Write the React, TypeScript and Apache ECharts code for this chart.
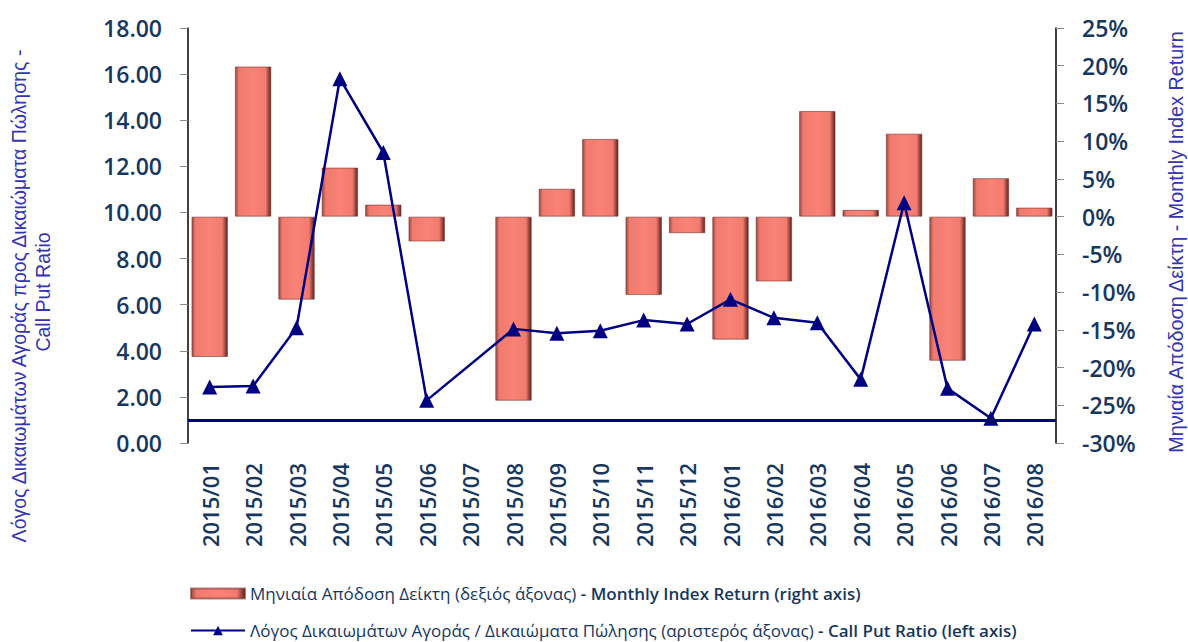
import React, { useEffect, useRef } from 'react';
import * as echarts from 'echarts';

const categories = [
  '2015/01', '2015/02', '2015/03', '2015/04', '2015/05', '2015/06', '2015/07', '2015/08',
  '2015/09', '2015/10', '2015/11', '2015/12', '2016/01', '2016/02', '2016/03', '2016/04',
  '2016/05', '2016/06', '2016/07', '2016/08',
];
const monthlyReturn = [
  -18.6, 19.9, -11.0, 6.5, 1.6, -3.3, null, -24.4, 3.7, 10.3,
  -10.4, -2.2, -16.3, -8.6, 14.0, 0.9, 11.0, -19.1, 5.1, 1.2,
];
const callPutRatio = [
  2.43, 2.47, 5.0, 15.8, 12.6, 1.85, null, 4.95, 4.76, 4.87,
  5.33, 5.16, 6.23, 5.43, 5.22, 2.76, 10.42, 2.37, 1.07, 5.16,
];
const referenceLevel = 1;
const leftAxisRange = { min: 0, max: 18, interval: 2 };
const rightAxisRange = { min: -30, max: 25, interval: 5 };

const barName = 'Μηνιαία Απόδοση Δείκτη (δεξιός άξονας) - Monthly Index Return (right axis)';
const lineName = 'Λόγος Δικαιωμάτων Αγοράς / Δικαιώματα Πώλησης (αριστερός άξονας) - Call Put Ratio (left axis)';
const leftNameLine1 = 'Λόγος Δικαιωμάτων Αγοράς προς Δικαιώματα Πώλησης -';
const leftNameLine2 = 'Call Put Ratio';
const rightName = 'Μηνιαία Απόδοση Δείκτη - Monthly Index Return';

const NAVY = '#17375E';
const NAME_COLOR = '#3535B0';
const FONT = '"Liberation Sans", Arial, sans-serif';
const OPEN = '"Open Sans", "Noto Sans", sans-serif';

const legendFormatter = (name: string) => {
  const idx = name.lastIndexOf(' - ');
  return `{g|${name.slice(0, idx)}}{e|${name.slice(idx)}}`;
};
const legendText = {
  rich: {
    g: { fontFamily: OPEN, fontSize: 17, color: NAVY, lineHeight: 18 },
    e: { fontFamily: OPEN, fontSize: 17, color: NAVY, fontWeight: 600, lineHeight: 18 },
  },
};

export default function App() {
  const ref = useRef<HTMLDivElement>(null);
  useEffect(() => {
    if (!ref.current) return;
    const chart = echarts.init(ref.current, undefined, { renderer: 'svg' });
    chart.setOption({
      animation: false,
      backgroundColor: '#ffffff',
      grid: { left: 188, right: 132, top: 28, bottom: 199 },
      legend: [
        {
          data: [{ name: barName, icon: 'rect' }],
          left: 190, top: 585, itemWidth: 54, itemHeight: 10, itemGap: 0, padding: 0,
          formatter: legendFormatter, textStyle: legendText,
        },
        {
          data: [lineName],
          left: 190, top: 622, itemWidth: 54, itemHeight: 12, itemGap: 0, padding: 0,
          formatter: legendFormatter, textStyle: legendText,
        },
      ],
      xAxis: {
        type: 'category',
        data: categories,
        axisLine: { show: false },
        axisTick: { show: false },
        axisLabel: {
          rotate: 90, margin: 20, interval: 0,
          fontFamily: OPEN, fontSize: 22, fontWeight: 600, color: NAVY,
        },
      },
      yAxis: [
        {
          type: 'value', position: 'left', ...leftAxisRange,
          axisLine: { show: true, lineStyle: { color: '#000', width: 1.5 } },
          axisTick: { show: true, length: 8, lineStyle: { color: '#888' } },
          splitLine: { show: false },
          axisLabel: {
            formatter: (v: number) => v.toFixed(2), margin: 26,
            fontFamily: OPEN, fontSize: 23, fontWeight: 600, color: NAVY,
          },
        },
        {
          type: 'value', position: 'right', ...rightAxisRange,
          axisLine: { show: true, lineStyle: { color: '#000', width: 1.5 } },
          axisTick: { show: true, length: 8, lineStyle: { color: '#888' } },
          splitLine: { show: false },
          axisLabel: {
            formatter: (v: number) => `${v}%`, margin: 26,
            fontFamily: OPEN, fontSize: 23, fontWeight: 600, color: NAVY,
          },
        },
      ],
      graphic: [
        {
          type: 'text', x: 19, y: 296, rotation: Math.PI / 2,
          style: {
            text: leftNameLine1, fill: NAME_COLOR, font: `19.5px ${FONT}`,
            align: 'center', verticalAlign: 'middle',
          },
        },
        {
          type: 'text', x: 43, y: 292, rotation: Math.PI / 2,
          style: {
            text: leftNameLine2, fill: NAME_COLOR, font: `19.5px ${FONT}`,
            align: 'center', verticalAlign: 'middle',
          },
        },
        {
          type: 'text', x: 1176, y: 242, rotation: Math.PI / 2,
          style: {
            text: rightName, fill: NAME_COLOR, font: `19.8px ${FONT}`,
            align: 'center', verticalAlign: 'middle',
          },
        },
      ],
      series: [
        {
          name: barName,
          type: 'bar',
          yAxisIndex: 1,
          data: monthlyReturn,
          barWidth: '84%',
          itemStyle: {
            color: new echarts.graphic.LinearGradient(0, 0, 1, 0, [
              { offset: 0, color: '#9A4A43' },
              { offset: 0.1, color: '#F07A6F' },
              { offset: 0.5, color: '#FA8276' },
              { offset: 0.85, color: '#F27A6E' },
              { offset: 1, color: '#5E2320' },
            ]),
            borderColor: 'rgba(120,50,45,0.6)',
            borderWidth: 1,
          },
        },
        {
          name: lineName,
          type: 'line',
          yAxisIndex: 0,
          data: callPutRatio,
          connectNulls: true,
          symbol: 'triangle',
          symbolSize: 15,
          lineStyle: { color: '#000080', width: 2.5 },
          itemStyle: { color: '#000080' },
          markLine: {
            silent: true,
            symbol: 'none',
            label: { show: false },
            lineStyle: { color: '#000080', width: 3, type: 'solid' },
            data: [{ yAxis: referenceLevel }],
          },
        },
      ],
    });
    return () => chart.dispose();
  }, []);
  return <div ref={ref} style={{ width: 1188, height: 642, position: 'absolute', left: 0, top: 0 }} />;
}
